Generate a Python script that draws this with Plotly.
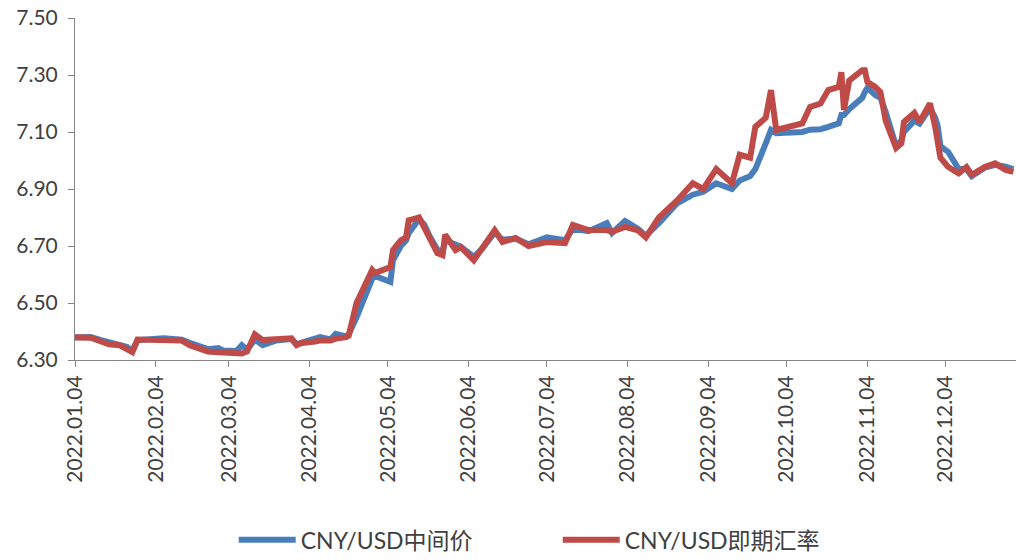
import plotly.graph_objects as go

# CNY/USD 2022: central parity (中间价) vs spot (即期汇率)
DATES = [
    "2022-01-04", "2022-01-10", "2022-01-14", "2022-01-17", "2022-01-21", "2022-01-24",
    "2022-01-26", "2022-01-28", "2022-02-07", "2022-02-11", "2022-02-14", "2022-02-17",
    "2022-02-21", "2022-02-24", "2022-02-28", "2022-03-02", "2022-03-07", "2022-03-09",
    "2022-03-11", "2022-03-14", "2022-03-17", "2022-03-22", "2022-03-28", "2022-03-30",
    "2022-04-01", "2022-04-06", "2022-04-08", "2022-04-12", "2022-04-14", "2022-04-18",
    "2022-04-19", "2022-04-22", "2022-04-25", "2022-04-28", "2022-04-29", "2022-05-05",
    "2022-05-06", "2022-05-09", "2022-05-11", "2022-05-12", "2022-05-16", "2022-05-18",
    "2022-05-20", "2022-05-23", "2022-05-25", "2022-05-26", "2022-05-30", "2022-06-01",
    "2022-06-06", "2022-06-09", "2022-06-14", "2022-06-17", "2022-06-22", "2022-06-27",
    "2022-07-04", "2022-07-11", "2022-07-14", "2022-07-20", "2022-07-27", "2022-07-29",
    "2022-08-03", "2022-08-08", "2022-08-11", "2022-08-16", "2022-08-23", "2022-08-29",
    "2022-09-02", "2022-09-07", "2022-09-13", "2022-09-16", "2022-09-20", "2022-09-22",
    "2022-09-26", "2022-09-28", "2022-09-30", "2022-10-10", "2022-10-13", "2022-10-17",
    "2022-10-20", "2022-10-24", "2022-10-25", "2022-10-26", "2022-10-28", "2022-11-02",
    "2022-11-03", "2022-11-04", "2022-11-07", "2022-11-09", "2022-11-11", "2022-11-15",
    "2022-11-17", "2022-11-18", "2022-11-22", "2022-11-24", "2022-11-28", "2022-11-30",
    "2022-12-01", "2022-12-02", "2022-12-05", "2022-12-09", "2022-12-12", "2022-12-14",
    "2022-12-19", "2022-12-23", "2022-12-27", "2022-12-30",
]

CENTRAL_PARITY = [
    6.379, 6.381, 6.370, 6.362, 6.356, 6.346,
    6.332, 6.370, 6.376, 6.374, 6.371, 6.360,
    6.347, 6.338, 6.342, 6.333, 6.332, 6.352,
    6.336, 6.372, 6.352, 6.368, 6.374, 6.356,
    6.361, 6.371, 6.380, 6.372, 6.392, 6.383,
    6.390, 6.450, 6.520, 6.585, 6.595, 6.574,
    6.650, 6.700, 6.720, 6.745, 6.795, 6.775,
    6.735, 6.688, 6.676, 6.720, 6.705, 6.698,
    6.662, 6.688, 6.748, 6.722, 6.726, 6.706,
    6.730, 6.720, 6.760, 6.752, 6.780, 6.746,
    6.788, 6.760, 6.736, 6.780, 6.850, 6.880,
    6.890, 6.920, 6.900, 6.930, 6.945, 6.970,
    7.060, 7.107, 7.096, 7.100, 7.108, 7.110,
    7.118, 7.130, 7.160, 7.160, 7.180, 7.220,
    7.240, 7.255, 7.230, 7.220, 7.170, 7.050,
    7.070, 7.100, 7.140, 7.130, 7.184, 7.150,
    7.120, 7.050, 7.030, 6.970, 6.970, 6.945,
    6.975, 6.985, 6.978, 6.970,
]

SPOT = [
    6.380, 6.378, 6.365, 6.355, 6.352, 6.340,
    6.328, 6.372, 6.372, 6.370, 6.368, 6.352,
    6.342, 6.330, 6.327, 6.325, 6.322, 6.323,
    6.330, 6.390, 6.370, 6.375, 6.376, 6.352,
    6.360, 6.365, 6.368, 6.368, 6.375, 6.380,
    6.385, 6.500, 6.556, 6.616, 6.605, 6.626,
    6.686, 6.720, 6.730, 6.790, 6.800, 6.765,
    6.720, 6.675, 6.668, 6.740, 6.686, 6.696,
    6.650, 6.690, 6.755, 6.714, 6.728, 6.700,
    6.714, 6.710, 6.774, 6.756, 6.756, 6.750,
    6.767, 6.755, 6.730, 6.800, 6.860, 6.920,
    6.900, 6.970, 6.920, 7.020, 7.010, 7.118,
    7.150, 7.247, 7.107, 7.130, 7.188, 7.200,
    7.247, 7.258, 7.310, 7.177, 7.280, 7.317,
    7.317, 7.275, 7.258, 7.240, 7.140, 7.044,
    7.060, 7.135, 7.167, 7.135, 7.200, 7.118,
    7.060, 7.010, 6.977, 6.955, 6.977, 6.950,
    6.977, 6.990, 6.967, 6.960,
]

TICK_DATES = [
    "2022-01-04", "2022-02-04", "2022-03-04", "2022-04-04", "2022-05-04", "2022-06-04",
    "2022-07-04", "2022-08-04", "2022-09-04", "2022-10-04", "2022-11-04", "2022-12-04",
]
TICK_LABELS = [d.replace("-", ".") for d in TICK_DATES]

BLUE = "#4A7EBB"
RED = "#BE4B48"
AXIS = "#868686"
TEXT = "#404040"
FONT = "Lato, 'Noto Sans CJK SC', sans-serif"

fig = go.Figure()
fig.add_trace(go.Scatter(
    x=DATES, y=CENTRAL_PARITY, mode="lines", name="CNY/USD中间价",
    line=dict(color=BLUE, width=6),
))
fig.add_trace(go.Scatter(
    x=DATES, y=SPOT, mode="lines", name="CNY/USD即期汇率",
    line=dict(color=RED, width=6),
))

fig.update_layout(
    width=1016,
    height=560,
    margin=dict(l=75, r=0, t=18, b=200, autoexpand=False),
    paper_bgcolor="white",
    plot_bgcolor="white",
    font=dict(family=FONT, size=21, color=TEXT),
    showlegend=True,
    legend=dict(
        orientation="h",
        x=0.513, xanchor="center",
        y=-0.526, yanchor="middle",
        font=dict(size=23, color=TEXT),
        entrywidth=252,
        itemwidth=57,
    ),
    xaxis=dict(
        type="date",
        range=["2022-01-04", "2022-12-31"],
        tickmode="array",
        tickvals=TICK_DATES,
        ticktext=TICK_LABELS,
        tickangle=-90,
        ticks="outside",
        ticklen=6,
        tickcolor=AXIS,
        showline=True,
        linecolor=AXIS,
        linewidth=1,
        showgrid=False,
        zeroline=False,
        automargin=False,
    ),
    yaxis=dict(
        range=[6.30, 7.50],
        tick0=6.30,
        dtick=0.2,
        tickformat=".2f",
        ticks="outside",
        ticklen=6,
        tickcolor=AXIS,
        showline=True,
        linecolor=AXIS,
        linewidth=1,
        showgrid=False,
        zeroline=False,
        automargin=False,
        ticklabelstandoff=6,
    ),
)

# drop the browser's default 8px body margin so the figure fills the window
fig.write_html(
    "out.html",
    config={"displayModeBar": False},
    post_script="document.body.style.margin='0';document.body.style.overflow='hidden';",
)
